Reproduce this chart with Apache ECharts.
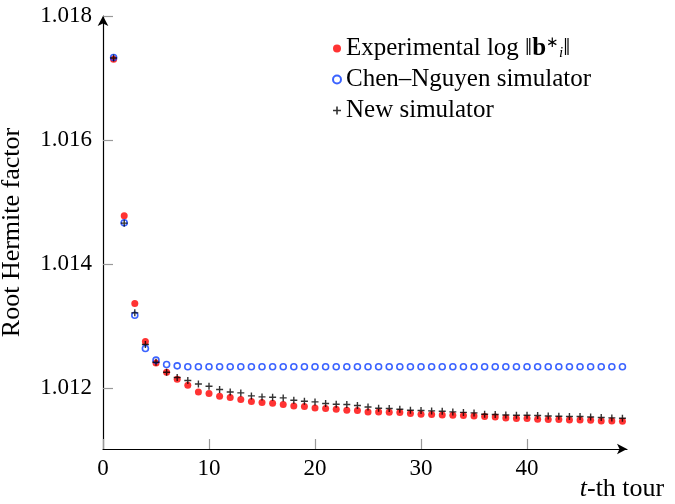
<!DOCTYPE html>
<html>
<head>
<meta charset="utf-8">
<script src="https://cdn.jsdelivr.net/npm/echarts@6/dist/echarts.min.js"></script>
<style>html,body{margin:0;padding:0;background:#fff}#c{width:675px;height:504px}</style>
</head>
<body>
<div id="c"></div>
<script>
const tours = [1,2,3,4,5,6,7,8,9,10,11,12,13,14,15,16,17,18,19,20,21,22,23,24,25,26,27,28,29,30,31,32,33,34,35,36,37,38,39,40,41,42,43,44,45,46,47,48,49];
const experimental = [1.017302,1.014779,1.013366,1.012753,1.012408,1.012258,1.012145,1.012048,1.011940,1.011915,
  1.011871,1.011850,1.011818,1.011785,1.011769,1.011758,1.011739,1.011715,1.011705,1.011682,
  1.011673,1.011661,1.011645,1.011640,1.011618,1.011615,1.011613,1.011608,1.011592,1.011581,
  1.011576,1.011569,1.011565,1.011561,1.011552,1.011544,1.011537,1.011521,1.011511,1.011510,
  1.011500,1.011495,1.011495,1.011489,1.011489,1.011484,1.011473,1.011473,1.011468];
const chenNguyen = [1.017330,1.014666,1.013177,1.012640,1.012452,1.012382,1.012360,1.012347,1.012347,1.012347,
  1.012347,1.012347,1.012347,1.012347,1.012347,1.012347,1.012347,1.012347,1.012347,1.012347,
  1.012347,1.012347,1.012347,1.012347,1.012347,1.012347,1.012347,1.012347,1.012347,1.012347,
  1.012347,1.012347,1.012347,1.012347,1.012347,1.012347,1.012347,1.012347,1.012347,1.012347,
  1.012347,1.012347,1.012347,1.012347,1.012347,1.012347,1.012347,1.012347,1.012347];
const newSim = [1.017323,1.014661,1.013215,1.012705,1.012419,1.012258,1.012173,1.012124,1.012069,1.012032,
  1.011979,1.011940,1.011924,1.011876,1.011860,1.011855,1.011844,1.011806,1.011790,1.011779,
  1.011753,1.011742,1.011737,1.011721,1.011698,1.011677,1.011673,1.011661,1.011645,1.011640,
  1.011634,1.011629,1.011618,1.011610,1.011602,1.011581,1.011576,1.011569,1.011565,1.011565,
  1.011560,1.011553,1.011548,1.011544,1.011544,1.011537,1.011527,1.011521,1.011516];
const xTicks = [0,10,20,30,40];
const yTicks = [1.012,1.014,1.016,1.018];
const seriesNames = ['Experimental', 'Chen–Nguyen simulator', 'New simulator'];

const FONT = 'Liberation Serif';
const plusPath = 'path://M-1,-5H1V-1H5V1H1V5H-1V1H-5V-1H-1Z';
const pair = a => tours.map((t, i) => [t, a[i]]);

const chart = echarts.init(document.getElementById('c'), null, {renderer: 'canvas'});
chart.setOption({
  animation: false,
  backgroundColor: '#fff',
  grid: {left: 103, right: 48, top: 16, bottom: 55, containLabel: false, outerBoundsMode: 'none'},
  legend: {
    orient: 'vertical', left: 327, top: 31, itemGap: 6, itemWidth: 8, itemHeight: 8, itemTextGap: 5,
    data: seriesNames,
    formatter: function (n) {
      if (n === 'Experimental') return 'Experimental log ‖{bb|b}{sup|∗}{sub|i}‖';
      return n;
    },
    textStyle: {
      fontFamily: FONT, fontSize: 25, color: '#000', lineHeight: 25,
      rich: {
        bb: {fontFamily: FONT, fontSize: 25, fontWeight: 'bold', color: '#000'},
        sup: {fontFamily: FONT, fontSize: 15, color: '#000', verticalAlign: 'top', lineHeight: 15},
        sub: {fontFamily: FONT, fontSize: 15, fontStyle: 'italic', color: '#000', verticalAlign: 'bottom', lineHeight: 15}
      }
    }
  },
  xAxis: {
    type: 'value', min: 0, max: 49.43,
    name: '{it|t}-th tour', nameLocation: 'end', nameGap: 0,
    nameTextStyle: {fontFamily: FONT, fontSize: 26, color: '#000', align: 'center', verticalAlign: 'top', padding: [27, 10, 0, 0],
      rich: {it: {fontFamily: FONT, fontSize: 26, fontStyle: 'italic', color: '#000'}}},
    axisLine: {onZero: false, lineStyle: {color: '#000', width: 1.2}, symbol: ['none', 'arrow'], symbolSize: [8, 10], symbolOffset: [0, 0]},
    axisTick: {inside: true, length: 10, customValues: xTicks, lineStyle: {color: '#999', width: 1.2}},
    axisLabel: {customValues: xTicks, margin: 8, fontFamily: FONT, fontSize: 23, color: '#000'},
    splitLine: {show: false}
  },
  yAxis: {
    type: 'value', min: 1.01102, max: 1.018,
    name: 'Root Hermite factor', nameLocation: 'middle', nameGap: 78, nameRotate: 90,
    nameTextStyle: {fontFamily: FONT, fontSize: 26, color: '#000'},
    axisLine: {onZero: false, lineStyle: {color: '#000', width: 1.2}, symbol: ['none', 'arrow'], symbolSize: [8, 10], symbolOffset: [0, 0]},
    axisTick: {inside: true, length: 10, customValues: yTicks, lineStyle: {color: '#999', width: 1.2}},
    axisLabel: {customValues: yTicks, margin: 11, fontFamily: FONT, fontSize: 23, color: '#000',
      formatter: v => v.toFixed(3)},
    splitLine: {show: false}
  },
  series: [
    {name: seriesNames[0], type: 'scatter', data: pair(experimental), symbol: 'circle', symbolSize: 7,
     itemStyle: {color: '#ff0000'}, z: 2},
    {name: seriesNames[1], type: 'scatter', data: pair(chenNguyen), symbol: 'circle', symbolSize: 6,
     itemStyle: {color: 'rgba(255,255,255,0)', borderColor: '#0a3cff', borderWidth: 1.6}, z: 3},
    {name: seriesNames[2], type: 'scatter', data: pair(newSim), symbol: plusPath, symbolSize: 7, symbolKeepAspect: true,
     itemStyle: {color: '#000'}, z: 4}
  ]
});
</script>
</body>
</html>
